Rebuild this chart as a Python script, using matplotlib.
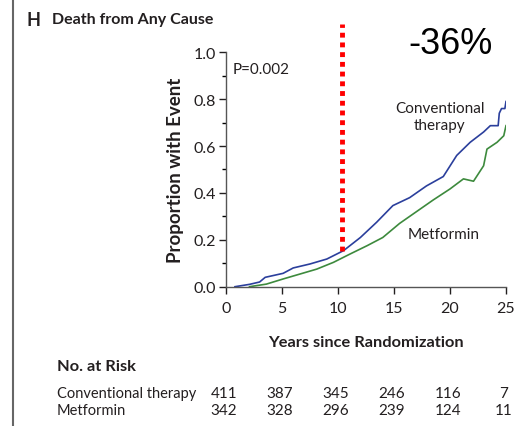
import matplotlib.pyplot as plt
from matplotlib.lines import Line2D
from matplotlib.ticker import MultipleLocator

plt.rcParams['font.family'] = ['Lato', 'DejaVu Sans']

# Kaplan-Meier style curves
conv_years = [0.8, 2.1, 3.0, 3.5, 5.1, 6.0, 7.5, 9.0, 10.5, 12.0, 13.45, 14.9,
              16.4, 17.9, 19.4, 20.6, 21.8, 23.0, 23.6, 24.3, 24.4, 24.6, 24.9, 25.0]
conv_prop = [0.0, 0.01, 0.02, 0.04, 0.057, 0.08, 0.097, 0.118, 0.154, 0.21, 0.275, 0.346,
             0.38, 0.43, 0.47, 0.56, 0.616, 0.66, 0.687, 0.687, 0.74, 0.76, 0.76, 0.79]

metf_years = [2.1, 3.6, 5.1, 6.6, 8.1, 9.6, 11.1, 12.6, 14.0, 15.5, 17.0, 18.5,
              20.0, 21.2, 22.1, 23.0, 23.3, 24.2, 24.8, 25.0]
metf_prop = [0.0, 0.011, 0.033, 0.054, 0.075, 0.104, 0.14, 0.175, 0.21, 0.27, 0.32, 0.37,
             0.417, 0.46, 0.45, 0.516, 0.587, 0.616, 0.644, 0.687]

risk_years = [0, 5, 10, 15, 20, 25]
risk_conv = [411, 387, 345, 246, 116, 7]
risk_metf = [342, 328, 296, 239, 124, 11]

marker_year = 10.4
marker_top = 1.12
marker_bottom = 0.154

blue = '#2b3f9c'
green = '#3d8a3d'
dark = '#231f20'

fig = plt.figure(figsize=(5.24, 4.27), dpi=100)
ax = fig.add_axes([226 / 524, 1 - 287.7 / 427, 280 / 524, 234.4 / 427])

ax.plot(conv_years, conv_prop, color=blue, lw=1.2)
ax.plot(metf_years, metf_prop, color=green, lw=1.2)

ax.plot([marker_year, marker_year], [marker_bottom, marker_top], color='#ff0000',
        lw=3.5, linestyle=(0, (1, 1)), clip_on=False, zorder=5)

ax.set_xlim(0, 25)
ax.set_ylim(0, 1.0)
ax.set_xticks(risk_years)
ax.set_yticks([0, 0.2, 0.4, 0.6, 0.8, 1.0])
ax.set_yticklabels(['0.0', '0.2', '0.4', '0.6', '0.8', '1.0'])
ax.yaxis.set_minor_locator(MultipleLocator(0.1))
ax.tick_params(axis='both', labelsize=11.5, colors=dark, length=5, width=1)
ax.tick_params(axis='x', pad=5)
ax.tick_params(axis='y', pad=2)
ax.tick_params(axis='y', which='minor', length=3, width=1)
for side in ['top', 'right']:
    ax.spines[side].set_visible(False)
for side in ['left', 'bottom']:
    ax.spines[side].set_color('#555555')
    ax.spines[side].set_linewidth(1)

ax.set_ylabel('Proportion with Event', fontsize=13.5, fontweight='bold', color=dark, labelpad=7)
ax.set_xlabel('Years since Randomization', fontsize=11.8, fontweight='bold', color=dark, labelpad=15)

ax.text(0.6, 0.93, 'P=0.002', fontsize=11, color=dark, va='center', ha='left')
ax.text(19.1, 0.725, 'Conventional\ntherapy', fontsize=11, color=dark, ha='center', va='center',
        linespacing=1.25)
ax.text(19.4, 0.224, 'Metformin', fontsize=11, color=dark, ha='center', va='center')

fig.text(27 / 524, 1 - 20 / 427, 'H', fontsize=13, fontweight='bold', color=dark, va='center')
fig.text(52 / 524, 1 - 20 / 427, 'Death from Any Cause', fontsize=11.5, fontweight='bold',
         color=dark, va='center')
fig.text(450 / 524, 1 - 44 / 427, '-36%', fontsize=26, color='black', ha='center', va='center',
         family='Liberation Sans')

fig.text(57 / 524, 1 - 367 / 427, 'No. at Risk', fontsize=11.8, fontweight='bold', color=dark,
         va='center')
fig.text(57 / 524, 1 - 394 / 427, 'Conventional therapy', fontsize=10.5, color=dark, va='center')
fig.text(57 / 524, 1 - 411 / 427, 'Metformin', fontsize=10.5, color=dark, va='center')
for yr, c, m in zip(risk_years, risk_conv, risk_metf):
    x = (226 + yr * 11.2 - 2) / 524
    fig.text(x, 1 - 394 / 427, str(c), fontsize=11, color=dark, ha='center', va='center')
    fig.text(x, 1 - 411 / 427, str(m), fontsize=11, color=dark, ha='center', va='center')

fig.add_artist(Line2D([13 / 524, 13 / 524], [0, 1], color='#666666', lw=1.5))

fig.savefig('out.png', dpi=100)
